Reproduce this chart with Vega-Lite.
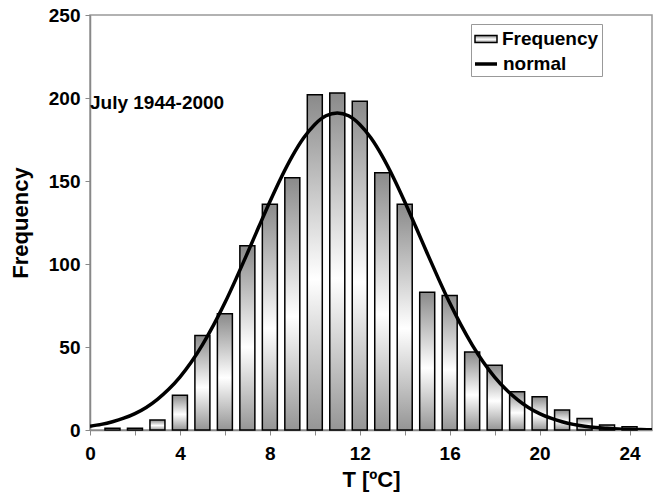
{
  "$schema": "https://vega.github.io/schema/vega-lite/v6.json",
  "autosize": "none",
  "width": 562,
  "height": 415,
  "padding": {"left": 90, "top": 15, "right": 3, "bottom": 65},
  "background": "white",
  "config": {
    "font": "Liberation Sans",
    "view": {"stroke": "#999999", "strokeWidth": 1.5},
    "axis": {
      "labelFont": "Liberation Sans", "labelFontWeight": "bold", "labelFontSize": 19, "labelColor": "black",
      "titleFont": "Liberation Sans", "titleFontWeight": "bold", "titleFontSize": 22, "titleColor": "black",
      "domainColor": "#888888", "domainWidth": 1.5, "tickColor": "#888888", "tickWidth": 1, "tickSize": 5, "grid": false
    },
    "legend": {
      "labelFont": "Liberation Sans", "labelFontWeight": "bold", "labelFontSize": 19, "labelColor": "black",
      "titleFont": "Liberation Sans", "titleFontWeight": "bold", "titleFontSize": 19
    }
  },
  "datasets": {
    "bars": [
      {"T": 1, "Frequency": 1}, {"T": 2, "Frequency": 1}, {"T": 3, "Frequency": 6}, {"T": 4, "Frequency": 21},
      {"T": 5, "Frequency": 57}, {"T": 6, "Frequency": 70}, {"T": 7, "Frequency": 111}, {"T": 8, "Frequency": 136},
      {"T": 9, "Frequency": 152}, {"T": 10, "Frequency": 202}, {"T": 11, "Frequency": 203}, {"T": 12, "Frequency": 198},
      {"T": 13, "Frequency": 155}, {"T": 14, "Frequency": 136}, {"T": 15, "Frequency": 83}, {"T": 16, "Frequency": 81},
      {"T": 17, "Frequency": 47}, {"T": 18, "Frequency": 39}, {"T": 19, "Frequency": 23}, {"T": 20, "Frequency": 20},
      {"T": 21, "Frequency": 12}, {"T": 22, "Frequency": 7}, {"T": 23, "Frequency": 3}, {"T": 24, "Frequency": 2}
    ],
    "normal": [
      {"T": 0, "v": 2.3}, {"T": 0.5, "v": 3.4}, {"T": 1, "v": 5.0}, {"T": 1.5, "v": 7.1}, {"T": 2, "v": 9.9},
      {"T": 2.5, "v": 13.6}, {"T": 3, "v": 18.5}, {"T": 3.5, "v": 24.5}, {"T": 4, "v": 31.9}, {"T": 4.5, "v": 40.8},
      {"T": 5, "v": 51.3}, {"T": 5.5, "v": 63.3}, {"T": 6, "v": 76.6}, {"T": 6.5, "v": 91.2}, {"T": 7, "v": 106.5},
      {"T": 7.5, "v": 122.1}, {"T": 8, "v": 137.5}, {"T": 8.5, "v": 152.0}, {"T": 9, "v": 165.0}, {"T": 9.5, "v": 175.9},
      {"T": 10, "v": 184.1}, {"T": 10.5, "v": 189.3}, {"T": 11, "v": 191.0}, {"T": 11.5, "v": 189.3}, {"T": 12, "v": 184.1},
      {"T": 12.5, "v": 175.9}, {"T": 13, "v": 165.0}, {"T": 13.5, "v": 152.0}, {"T": 14, "v": 137.5}, {"T": 14.5, "v": 122.1},
      {"T": 15, "v": 106.5}, {"T": 15.5, "v": 91.2}, {"T": 16, "v": 76.6}, {"T": 16.5, "v": 63.3}, {"T": 17, "v": 51.3},
      {"T": 17.5, "v": 40.8}, {"T": 18, "v": 31.9}, {"T": 18.5, "v": 24.5}, {"T": 19, "v": 18.5}, {"T": 19.5, "v": 13.6},
      {"T": 20, "v": 9.9}, {"T": 20.5, "v": 7.1}, {"T": 21, "v": 5.0}, {"T": 21.5, "v": 3.4}, {"T": 22, "v": 2.3},
      {"T": 22.5, "v": 1.5}, {"T": 23, "v": 1.0}, {"T": 23.5, "v": 0.6}, {"T": 24, "v": 0.4}, {"T": 24.5, "v": 0.25},
      {"T": 25, "v": 0.15}
    ],
    "note": [{"T": 0, "v": 197, "label": "July 1944-2000"}]
  },
  "layer": [
    {
      "data": {"name": "bars"},
      "mark": {
        "type": "bar", "size": 15, "strokeWidth": 1.5,
        "fill": {"gradient": "linear", "x1": 0, "y1": 0, "x2": 0, "y2": 1,
          "stops": [{"offset": 0, "color": "#8a8a8a"}, {"offset": 0.55, "color": "#ffffff"}, {"offset": 1, "color": "#959595"}]}
      },
      "encoding": {
        "x": {"field": "T", "type": "quantitative",
          "scale": {"domain": [0, 25], "nice": false, "zero": false, "padding": 0},
          "axis": {"title": "T [ºC]", "values": [0,1,2,3,4,5,6,7,8,9,10,11,12,13,14,15,16,17,18,19,20,21,22,23,24,25],
            "labelExpr": "datum.value % 4 === 0 && datum.value < 25 ? datum.label : ''", "labelPadding": 9, "titlePadding": 6, "labelFlush": false}},
        "y": {"field": "Frequency", "type": "quantitative",
          "scale": {"domain": [0, 250], "nice": false},
          "axis": {"title": "Frequency", "values": [0, 50, 100, 150, 200, 250], "labelPadding": 5, "titlePadding": 16}},
        "stroke": {"datum": "Frequency", "type": "nominal",
          "scale": {"domain": ["Frequency"], "range": ["black"]},
          "legend": {
            "title": "\u00a0", "titleOrient": "bottom", "titlePadding": 5,
            "orient": "none", "legendX": 381, "legendY": 9,
            "strokeColor": "#999999", "fillColor": "white", "padding": 3,
            "symbolType": "M-1,-0.32H1V0.32H-1Z", "symbolSize": 484, "symbolStrokeWidth": 1.5,
            "symbolOpacity": 1, "labelOffset": 4
          }
        }
      }
    },
    {
      "data": {"name": "normal"},
      "mark": {"type": "line", "strokeWidth": 3.5, "interpolate": "monotone", "clip": true},
      "encoding": {
        "x": {"field": "T", "type": "quantitative"},
        "y": {"field": "v", "type": "quantitative"},
        "color": {"datum": "normal", "type": "nominal",
          "scale": {"domain": ["normal"], "range": ["black"]},
          "legend": {
            "title": null, "orient": "none", "legendX": 383, "legendY": 36, "padding": 0,
            "symbolType": "stroke", "symbolSize": 484, "symbolStrokeWidth": 3.5, "symbolOpacity": 1, "labelOffset": 4
          }
        }
      }
    },
    {
      "data": {"name": "note"},
      "mark": {"type": "text", "align": "left", "baseline": "middle", "font": "Liberation Sans", "fontWeight": "bold", "fontSize": 19, "color": "black"},
      "encoding": {
        "x": {"field": "T", "type": "quantitative"},
        "y": {"field": "v", "type": "quantitative"},
        "text": {"field": "label"}
      }
    }
  ]
}
